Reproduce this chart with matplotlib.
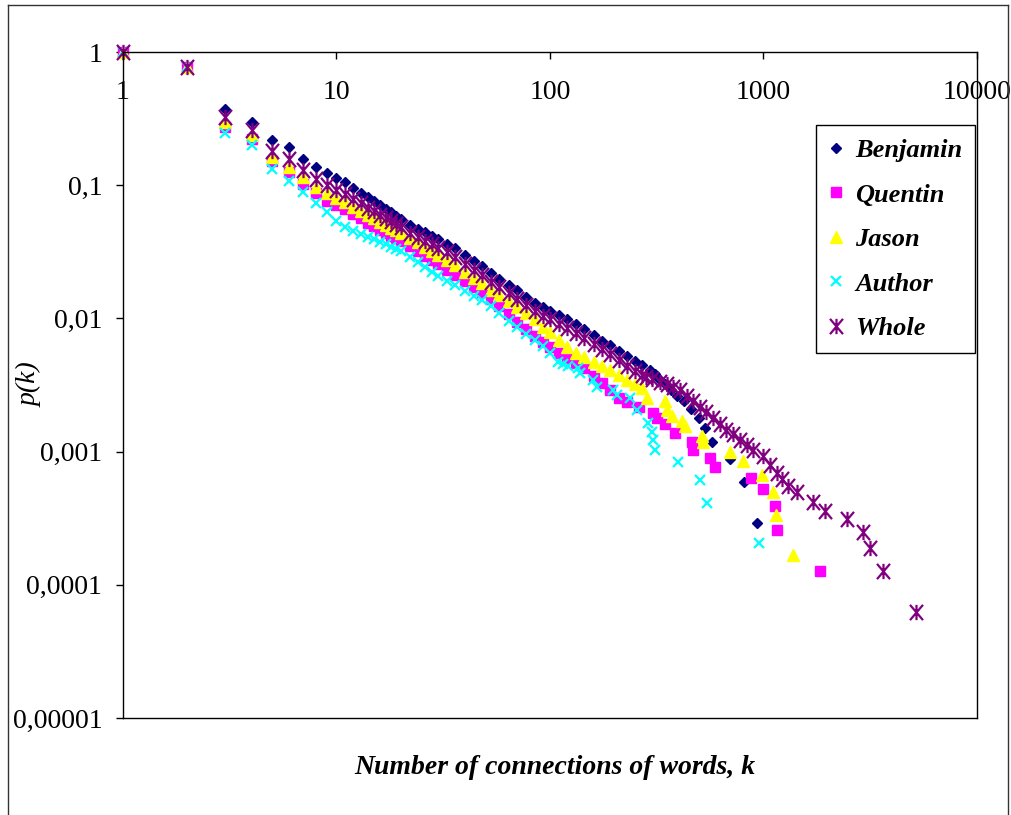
import matplotlib
matplotlib.use("Agg")
import matplotlib.pyplot as plt
from matplotlib.path import Path
from matplotlib.lines import Line2D
from matplotlib.ticker import NullLocator
from matplotlib.font_manager import FontProperties

# ---- data (k, p(k)) ----
ben_k = [1, 2, 3, 4, 5, 6, 7, 8, 9, 10, 11, 12, 13, 14, 15, 16, 17, 18, 19, 20,
         22, 24, 26, 28, 30, 33, 36, 40, 44, 48, 53, 58, 64, 70, 77, 85, 93, 100,
         110, 120, 132, 145, 160, 175, 190, 210, 230, 250, 270, 295, 310, 325, 345,
         370, 395, 425, 460, 500, 530, 572, 700, 813, 929]
ben_p = [1.0, 0.772, 0.374, 0.298, 0.219, 0.194, 0.157, 0.137, 0.124, 0.113,
         0.105, 0.0956, 0.0880, 0.0815, 0.0760, 0.0710, 0.0666, 0.0627, 0.0591, 0.0560,
         0.0506, 0.0471, 0.0442, 0.0417, 0.0394, 0.0365, 0.0335, 0.0300, 0.0270, 0.0246,
         0.0220, 0.0199, 0.0178, 0.0162, 0.0145, 0.0131, 0.0121, 0.0114, 0.0106, 0.00983,
         0.00908, 0.00834, 0.00747, 0.00678, 0.00626, 0.00569, 0.00521, 0.00480, 0.00446,
         0.0041, 0.0038, 0.0035, 0.0032, 0.0029, 0.0026, 0.0024, 0.0021, 0.0018, 0.0015,
         0.00119, 0.00088, 0.00059, 0.00029]

quentin_k = [1, 2, 3, 4, 5, 6, 7, 8, 9, 10, 11, 12, 13, 14, 15, 16, 17, 18, 19, 20,
             22, 24, 26, 28, 30, 33, 36, 40, 44, 48, 53, 58, 64, 70, 77, 85, 93, 100,
             110, 120, 132, 145, 160, 175, 190, 210, 230, 260, 305, 316, 346, 385, 461,
             469, 562, 593, 871, 991, 1132, 1157, 1841]
quentin_p = [1.0, 0.772, 0.274, 0.2226, 0.152, 0.1259, 0.1023, 0.0876, 0.0762, 0.0712,
             0.0661, 0.0607, 0.0563, 0.0524, 0.0491, 0.0461, 0.0439, 0.0417, 0.0399, 0.0382,
             0.0352, 0.0321, 0.0296, 0.0274, 0.0255, 0.0231, 0.0211, 0.0191, 0.0173, 0.0159,
             0.0141, 0.0123, 0.0107, 0.00940, 0.00830, 0.00737, 0.00660, 0.00605, 0.00548,
             0.00505, 0.00462, 0.00422, 0.00372, 0.00326, 0.00290, 0.00254, 0.00237, 0.00217,
             0.00195, 0.00179, 0.00162, 0.00138, 0.00119, 0.00103, 0.00089, 0.00077, 0.00063,
             0.00052, 0.00039, 0.00026, 0.000128]

jason_k = [1, 2, 3, 4, 5, 6, 7, 8, 9, 10, 11, 12, 13, 14, 15, 16, 17, 18, 19, 20,
           22, 24, 26, 28, 30, 33, 36, 40, 44, 48, 53, 58, 64, 70, 77, 85, 93, 100,
           110, 120, 132, 145, 160, 175, 190, 210, 230, 250, 270, 284, 346, 352, 371,
           414, 429, 513, 522, 700, 800, 982, 1111, 1145, 1371]
jason_p = [1.0, 0.772, 0.298, 0.238, 0.163, 0.137, 0.1154, 0.0971, 0.0876, 0.0803,
           0.0747, 0.0690, 0.0642, 0.0599, 0.0563, 0.0530, 0.0504, 0.0479, 0.0458, 0.0438,
           0.0404, 0.0372, 0.0344, 0.0320, 0.0300, 0.0274, 0.0250, 0.0223, 0.0201, 0.0183,
           0.0164, 0.0149, 0.0134, 0.0122, 0.0110, 0.00983, 0.00865, 0.00784, 0.00688,
           0.00609, 0.00553, 0.00513, 0.00474, 0.00441, 0.00410, 0.00375, 0.00347, 0.00322,
           0.00302, 0.00252, 0.00238, 0.00206, 0.00184, 0.00169, 0.00155, 0.0013, 0.00118,
           0.0010, 0.000855, 0.000665, 0.0005, 0.000336, 0.000166]

author_k = [1, 2, 3, 4, 5, 6, 7, 8, 9, 10, 11, 12, 13, 14, 15, 16, 17, 18, 19, 20,
            22, 24, 26, 28, 30, 33, 36, 40, 44, 48, 53, 58, 64, 70, 77, 85, 93, 100,
            109, 115, 122, 135, 138, 159, 166, 197, 206, 237, 256, 288, 301, 304, 310,
            398, 504, 544, 953]
author_p = [1.0, 0.772, 0.247, 0.2006, 0.1326, 0.1077, 0.0891, 0.0737, 0.0630, 0.054,
            0.0488, 0.0456, 0.0432, 0.0411, 0.0392, 0.0375, 0.0360, 0.0346, 0.0333, 0.0322,
            0.0291, 0.0265, 0.0243, 0.0224, 0.0208, 0.0191, 0.0177, 0.0161, 0.0148, 0.0137,
            0.0123, 0.0110, 0.00964, 0.00857, 0.00769, 0.00694, 0.00617, 0.00546,
            0.00472, 0.00455, 0.00440, 0.00426, 0.00391, 0.00346, 0.00307, 0.00291, 0.00267,
            0.00254, 0.00206, 0.00165, 0.00141, 0.00123, 0.00103, 0.00083, 0.000615,
            0.000414, 0.000207]

whole_k = [1, 2, 3, 4, 5, 6, 7, 8, 9, 10, 11, 12, 13, 14, 15, 16, 17, 18, 19, 20,
           22, 24, 26, 28, 30, 33, 36, 40, 44, 48, 53, 58, 64, 70, 77, 85, 93, 100,
           110, 120, 132, 145, 160, 175, 190, 210, 230, 250, 270, 283, 300, 326, 352,
           377, 405, 438, 466, 504, 540, 580, 627, 670, 719, 780, 833, 890, 998, 1072,
           1153, 1217, 1306, 1430, 1711, 1940, 2453, 2933, 3155, 3614, 5177]
whole_p = [1.0, 0.772, 0.325, 0.260, 0.181, 0.1575, 0.130, 0.1115, 0.1005, 0.0922,
           0.0856, 0.0787, 0.0729, 0.0679, 0.0636, 0.0598, 0.0564, 0.0534, 0.0507, 0.0483,
           0.0440, 0.0410, 0.0383, 0.0359, 0.0339, 0.0313, 0.0287, 0.0256, 0.0231, 0.0210,
           0.0189, 0.0171, 0.0154, 0.0140, 0.0126, 0.0114, 0.0105, 0.00990, 0.00912,
           0.00846, 0.00778, 0.00715, 0.00646, 0.00588, 0.00539, 0.00483, 0.00438, 0.00400,
           0.00373, 0.00361, 0.00349, 0.00334, 0.00319, 0.00306, 0.00291, 0.00263, 0.00240,
           0.00217, 0.00199, 0.00180, 0.00162, 0.00146, 0.00135, 0.00123, 0.00113, 0.00103,
           0.00092, 0.00080, 0.00069, 0.00062, 0.00055, 0.00050, 0.00042, 0.00036, 0.00031,
           0.00025, 0.00019, 0.000126, 0.0000622]

x_ticks = [1, 10, 100, 1000, 10000]
x_labels = ["1", "10", "100", "1000", "10000"]
y_ticks = [1e-5, 1e-4, 1e-3, 1e-2, 1e-1, 1]
y_labels = ["0,00001", "0,0001", "0,001", "0,01", "0,1", "1"]

serif = "Liberation Serif"

# asterisk marker (x with a vertical bar), like the Excel star
star = Path([(-0.85, -1), (0.85, 1), (-0.85, 1), (0.85, -1), (0, -1), (0, 1)],
            [Path.MOVETO, Path.LINETO, Path.MOVETO, Path.LINETO, Path.MOVETO, Path.LINETO])

fig = plt.figure(figsize=(10.12, 8.15), dpi=100)
ax = fig.add_axes([123 / 1012, 1 - 718 / 815, (977 - 123) / 1012, (718 - 52) / 815])
ax.set_xscale("log")
ax.set_yscale("log")

ax.plot(ben_k, ben_p, ls="none", marker="D", ms=5.4, color="#000080", mec="#000080",
        clip_on=False, label="Benjamin")
ax.plot(quentin_k, quentin_p, ls="none", marker="s", ms=6.6, color="#FF00FF", mec="#FF00FF",
        clip_on=False, label="Quentin")
ax.plot(jason_k, jason_p, ls="none", marker="^", ms=8.4, color="#FFFF00", mec="#FFFF00",
        clip_on=False, label="Jason")
ax.plot(author_k, author_p, ls="none", marker="x", ms=7.8, mew=1.6, color="#00FFFF",
        clip_on=False, label="Author")
ax.plot(whole_k, whole_p, ls="none", marker=star, ms=11, mew=1.6, color="#800080",
        mfc="none", clip_on=False, label="Whole")

ax.set_xlim(1, 10000)
ax.set_ylim(1e-5, 1)
ax.set_xticks(x_ticks)
ax.set_xticklabels(x_labels, fontfamily=serif)
ax.set_yticks(y_ticks)
ax.set_yticklabels(y_labels, fontfamily=serif)
ax.xaxis.set_minor_locator(NullLocator())
ax.yaxis.set_minor_locator(NullLocator())
ax.tick_params(axis="x", top=True, bottom=False, labeltop=True, labelbottom=False,
               direction="in", length=5, width=1, pad=-38, labelsize=20)
ax.tick_params(axis="y", direction="out", length=5, width=1, pad=10, labelsize=20)
for s in ax.spines.values():
    s.set_linewidth(1.0)
    s.set_color("black")

leg = ax.legend(loc="upper right", bbox_to_anchor=(0.998, 0.890), frameon=True,
                fancybox=False, edgecolor="black", framealpha=1,
                prop=FontProperties(family=serif, style="italic", weight="bold", size=19),
                handlelength=0.5, handletextpad=0.47, labelspacing=0.8, borderpad=0.5,
                borderaxespad=0, numpoints=1)
leg.get_frame().set_linewidth(1.0)

fig.text(30 / 1012, 1 - 385 / 815, "p(k)", rotation=90, ha="center", va="center",
         fontfamily=serif, fontstyle="italic", fontsize=20)
fig.text(555 / 1012, 1 - 767 / 815, "Number of connections of words, k", ha="center",
         va="center", fontfamily=serif, fontstyle="italic", fontweight="bold", fontsize=20)

# outer chart frame (open at the bottom, as in the source)
for xs, ys in [([8, 8], [0, 810]), ([8, 1008], [810, 810]), ([1008, 1008], [810, 0])]:
    fig.add_artist(Line2D([x / 1012 for x in xs], [y / 815 for y in ys],
                          transform=fig.transFigure, color="#333333", lw=1.0))

fig.savefig("out.png", dpi=100)
